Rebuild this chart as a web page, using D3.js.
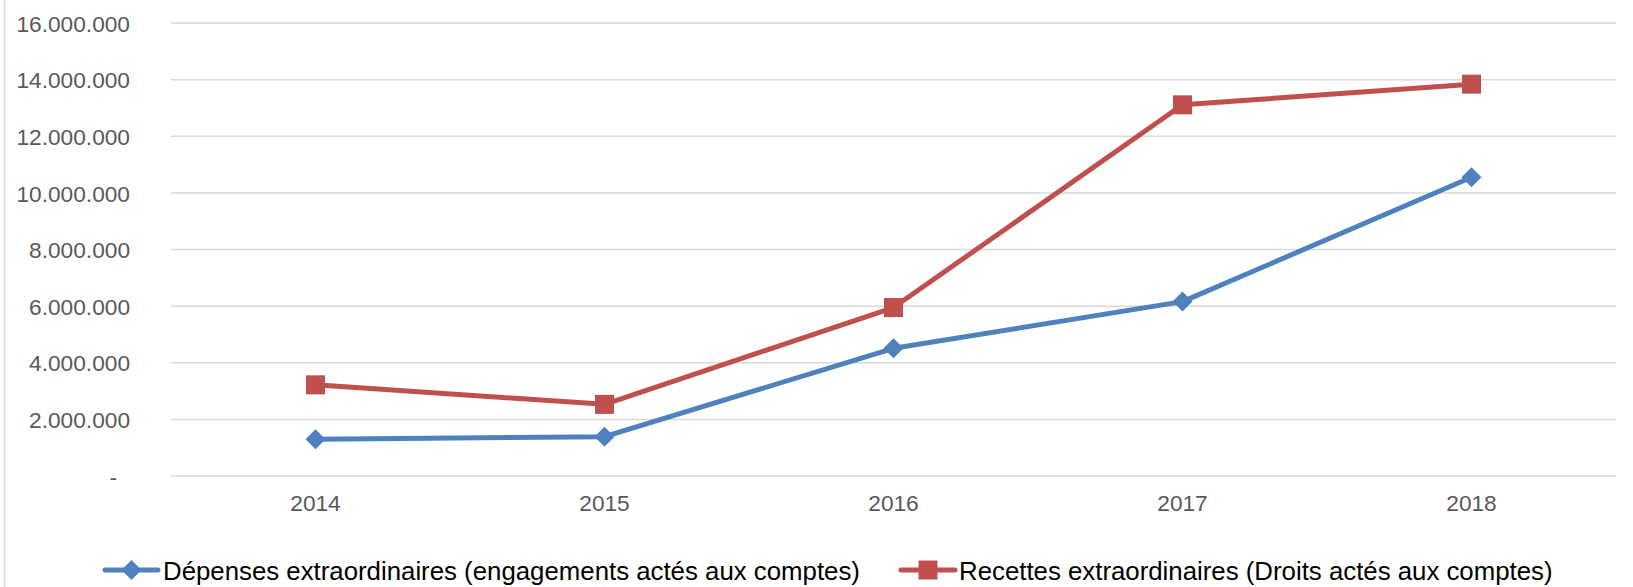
<!DOCTYPE html>
<html><head><meta charset="utf-8">
<script src="https://cdn.jsdelivr.net/npm/d3@7/dist/d3.min.js"></script>
<style>
html,body{margin:0;padding:0;background:#fff;}
svg{display:block;font-family:"Liberation Sans",Arial,sans-serif;}
</style></head>
<body><svg id="c" width="1633" height="587"></svg>
<script>
const categories = ["2014","2015","2016","2017","2018"];
const depenses = [1300000, 1390000, 4510000, 6160000, 10550000];
const recettes = [3220000, 2530000, 5950000, 13110000, 13840000];
const yTicks = [0,2000000,4000000,6000000,8000000,10000000,12000000,14000000,16000000];
const seriesNames = ["Dépenses extraordinaires (engagements actés aux comptes)","Recettes extraordinaires (Droits actés aux comptes)"];
const colors = ["#4f81bd","#c0504d"];

const svg = d3.select("#c");
const W = 1633, H = 587;
const m = {left:171, right:W-1616, top:23, bottom:H-476};

// left border
svg.append("line").attr("x1",4.5).attr("x2",4.5).attr("y1",0).attr("y2",H)
  .attr("stroke","#d9d9d9").attr("stroke-width",1.5);

const x = d3.scaleBand().domain(categories).range([m.left, W-m.right]);
const y = d3.scaleLinear().domain([0,16000000]).range([H-m.bottom, m.top]);

const fmt = v => v===0 ? "-" : d3.format(",")(v).replace(/,/g,".");

// gridlines
svg.append("g").selectAll("line").data(yTicks).join("line")
  .attr("x1",m.left).attr("x2",W-m.right)
  .attr("y1",d=>y(d)).attr("y2",d=>y(d))
  .attr("stroke","#d9d9d9").attr("stroke-width",1.5);

// y axis
const ya = svg.append("g").attr("transform",`translate(${m.left},0)`)
  .call(d3.axisLeft(y).tickValues(yTicks).tickFormat(fmt).tickSize(0).tickPadding(41));
ya.select(".domain").remove();
ya.selectAll("text").attr("font-size","22.7px").attr("fill","#595959")
  .attr("font-family","'Liberation Sans',Arial,sans-serif").attr("dy","0.36em")
  .attr("dx",d=>d===0?-13:0);

// x axis
const xa = svg.append("g").attr("transform",`translate(0,${H-m.bottom})`)
  .call(d3.axisBottom(x).tickSize(0).tickPadding(19));
xa.select(".domain").remove();
xa.selectAll("text").attr("font-size","22.7px").attr("fill","#595959")
  .attr("font-family","'Liberation Sans',Arial,sans-serif");

const cx = d => x(d) + x.bandwidth()/2;
const line = d3.line().x((d,i)=>cx(categories[i])).y(d=>y(d));

const series = [depenses, recettes];
const diamond = (px,py,r) => `M${px},${py-r}L${px+r},${py}L${px},${py+r}L${px-r},${py}Z`;

series.forEach((s,si)=>{
  svg.append("path").datum(s).attr("d",line).attr("fill","none")
    .attr("stroke",colors[si]).attr("stroke-width",5).attr("stroke-linejoin","round");
});
// markers
svg.append("g").selectAll("path").data(depenses).join("path")
  .attr("d",(d,i)=>diamond(cx(categories[i]), y(d), 10)).attr("fill",colors[0]);
svg.append("g").selectAll("rect").data(recettes).join("rect")
  .attr("x",(d,i)=>cx(categories[i])-9.5).attr("y",d=>y(d)-9.5)
  .attr("width",19).attr("height",19).attr("fill",colors[1]);

// legend
const legY = 570;
const leg = [{x1:105,x2:158,tx:163},{x1:901,x2:955,tx:959}];
leg.forEach((L,i)=>{
  const g = svg.append("g");
  g.append("line").attr("x1",L.x1).attr("x2",L.x2).attr("y1",legY).attr("y2",legY)
    .attr("stroke",colors[i]).attr("stroke-width",5).attr("stroke-linecap","round");
  const mx = (L.x1+L.x2)/2;
  if(i===0) g.append("path").attr("d",diamond(mx,legY,10)).attr("fill",colors[0]);
  else g.append("rect").attr("x",mx-9.5).attr("y",legY-9.5).attr("width",19).attr("height",19).attr("fill",colors[1]);
  g.append("text").attr("x",L.tx).attr("y",580).attr("font-size","25.8px").attr("fill","#000")
    .text(seriesNames[i]);
});
</script></body></html>
